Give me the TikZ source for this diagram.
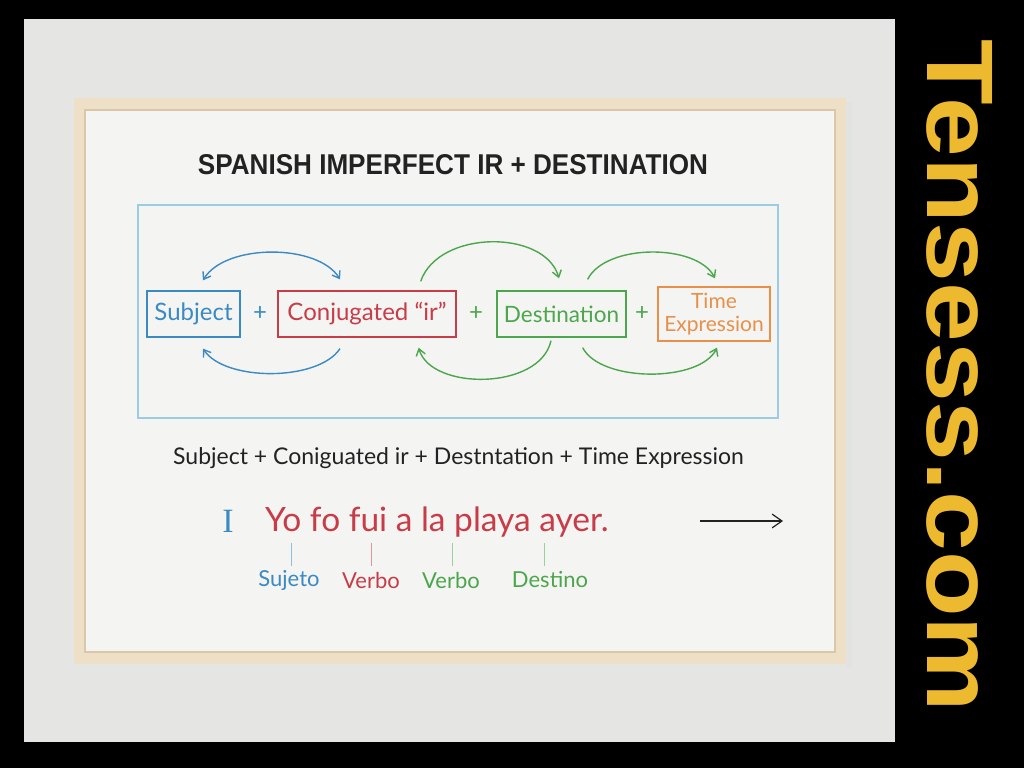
\documentclass[tikz,border=0pt]{standalone}
\usepackage{graphicx}
\usepackage{fontspec}
\setmainfont{Lato}
\newfontfamily\titlefont{Liberation Sans}
\newfontfamily\serifI{Liberation Serif}
\usetikzlibrary{arrows.meta}
\definecolor{wall}{HTML}{E5E5E3}
\definecolor{wood}{HTML}{EEE0C6}
\definecolor{woodin}{HTML}{D9C7A8}
\definecolor{paper}{HTML}{F4F4F2}
\definecolor{cblue}{HTML}{3A8AC4}
\definecolor{cred}{HTML}{C83C48}
\definecolor{cgreen}{HTML}{4CA64C}
\definecolor{corange}{HTML}{E8904A}
\definecolor{lblue}{HTML}{9CCBE4}
\definecolor{yel}{HTML}{EDB92E}
\definecolor{ink}{HTML}{222222}
\tikzset{
  wbox/.style={draw, line width=1.3pt, inner sep=0pt, font=\fontsize{24}{27}\selectfont},
  arc/.style={line width=1.4pt, -{Straight Barb[angle=70:8pt]}},
  tick/.style={line width=0.9pt},
  lab/.style={font=\fontsize{22}{25}\selectfont, inner sep=0pt},
  plus/.style={font=\fontsize{24}{27}\selectfont, inner sep=0pt}
}
\begin{document}
\begin{tikzpicture}[x=1pt,y=-1pt]
\useasboundingbox (0,0) rectangle (1024,768);
\fill[black] (0,0) rectangle (1024,768);
\fill[wall] (24,19) rectangle (895,742);
% frame
\fill[black!12,opacity=0.5] (846,102) rectangle (852,668);
\fill[wood] (74,98) rectangle (846,664);
\fill[woodin] (84,109) rectangle (836,653);
\fill[paper] (86,111) rectangle (834,651);
% title
\node[ink] (title) at (453,165) {\resizebox{510pt}{20pt}{\titlefont\bfseries SPANISH IMPERFECT IR + DESTINATION}};
% outer blue frame
\draw[lblue, line width=1.2pt] (138,205) rectangle (778,418);
% boxes
\node[wbox, cblue, minimum width=93pt, minimum height=46pt] (subj) at (193.5,314) {Subject};
\node[plus, cblue] (p1) at (260,313) {+};
\node[wbox, cred, minimum width=178pt, minimum height=46pt] (conj) at (367,314) {Conjugated “ir”};
\node[plus, cgreen] (p2) at (476,313) {+};
\node[wbox, cgreen, minimum width=129pt, minimum height=46pt, font=\fontsize{22.5}{26}\selectfont] (dest) at (561.5,314) {Destination};
\node[plus, cgreen] (p3) at (642,313) {+};
\node[wbox, corange, minimum width=112pt, minimum height=54pt, align=center, font=\fontsize{21}{23}\selectfont] (time) at (714,314) {Time\\Expression};
% arcs
\draw[arc, cblue, {Straight Barb[angle=70:8pt]}-{Straight Barb[angle=70:8pt]}]
  ([xshift=9.5pt,yshift=10pt]subj.north) .. controls +(22,-37) and +(-22,-36) .. ([xshift=-27pt,yshift=11pt]conj.north);
\draw[arc, cblue]
  ([xshift=-27pt,yshift=-11pt]conj.south) .. controls +(-22,33) and +(22,33) .. ([xshift=9.5pt,yshift=-11pt]subj.south);
\draw[arc, cgreen]
  ([xshift=-36pt,yshift=9pt]conj.north east) .. controls +(18,-52) and +(-14,-49) .. ([xshift=-2.5pt,yshift=12pt]dest.north);
\draw[arc, cgreen]
  ([xshift=-39pt,yshift=11pt]dest.north east) .. controls +(18,-36) and +(-18,-35) .. ([xshift=1pt,yshift=8pt]time.north);
\draw[arc, cgreen]
  ([xshift=-10.5pt,yshift=-3pt]dest.south) .. controls +(-11,50) and +(12,43) .. ([xshift=-38pt,yshift=-10pt]conj.south east);
\draw[arc, cgreen]
  ([xshift=-44pt,yshift=-10pt]dest.south east) .. controls +(18,35) and +(-17,35) .. ([xshift=3pt,yshift=-6pt]time.south);
% formula line
\node[ink, font=\fontsize{23}{26}\selectfont] (formula) at (458.5,458) {Subject + Coniguated ir + Destntation + Time Expression};
% example
\node[cblue, font=\serifI\fontsize{34}{38}\selectfont, inner sep=0pt] (I) at (228,521) {I};
\node[cred, font=\fontsize{33.5}{38}\selectfont, anchor=west, inner sep=0pt] (ex) at (265,522) {Yo fo fui a la playa ayer.};
\coordinate (arS) at (700,521);
\coordinate (arE) at (783,521);
\draw[ink, line width=1.2pt, -{Straight Barb[angle=70:12pt]}] (arS) -- (arE);
% labels
\node[lab, cblue] (l1) at (289,580) {Sujeto};
\node[lab, cred] (l2) at (371,580) {Verbo};
\node[lab, cgreen] (l3) at (451,580) {Verbo};
\node[lab, cgreen] (l4) at (550,580) {Destino};
\coordinate (t1) at (291,543);
\coordinate (t2) at (371,543);
\coordinate (t3) at (452,543);
\coordinate (t4) at (544,543);
\draw[tick, cblue!55] (t1) -- (t1 |- 0,566);
\draw[tick, cred!55] (t2) -- (t2 |- 0,566);
\draw[tick, cgreen!55] (t3) -- (t3 |- 0,566);
\draw[tick, cgreen!55] (t4) -- (t4 |- 0,566);
% brand
\node[yel, rotate=-90, inner sep=0pt] (brand) at (959.5,376) {\resizebox{672pt}{65pt}{\titlefont\bfseries Tensess.com}};
\end{tikzpicture}
\end{document}
